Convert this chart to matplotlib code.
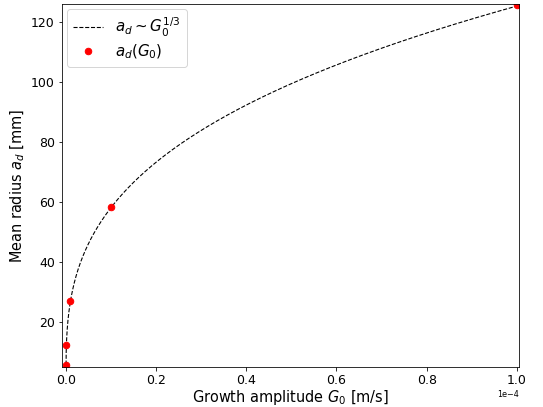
import numpy as np
import matplotlib.pyplot as plt

# growth amplitude [m/s] and measured mean radius [mm]
G0 = np.array([1e-8, 1e-7, 1e-6, 1e-5, 1e-4])
a_d = np.array([5.8, 12.5, 27.0, 58.4, 125.6])

# power law fit a_d = C * G0^(1/3)
C = np.exp(np.mean(np.log(a_d) - np.log(G0) / 3))
G_fit = np.linspace(0, G0.max(), 4000)
a_fit = C * G_fit ** (1 / 3)

fig, ax = plt.subplots(figsize=(543 / 72, 407 / 72), dpi=72)

ax.plot(G_fit, a_fit, 'k--', linewidth=1.1, label=r"$a_d \sim G_0^{1/3}$")
ax.plot(G0, a_d, 'o', color='red', markersize=6.5, label=r"$a_d(G_0)$")

ax.set_xlim(-0.9e-6, 1.005e-4)
ax.set_ylim(5, 126)
ax.ticklabel_format(axis='x', style='sci', scilimits=(0, 0))
ax.tick_params(labelsize=12.5)
ax.xaxis.get_offset_text().set_fontsize(8)
ax.set_xlabel(r"Growth amplitude $G_0$ [m/s]", fontsize=14.5, labelpad=1)
ax.set_ylabel(r"Mean radius $a_d$ [mm]", fontsize=14.5)
ax.legend(loc="upper left", fontsize=15, labelspacing=0.25, borderaxespad=0.35)

fig.subplots_adjust(left=0.114, right=0.956, bottom=0.098, top=0.99)
fig.savefig("out.png", dpi=72)
